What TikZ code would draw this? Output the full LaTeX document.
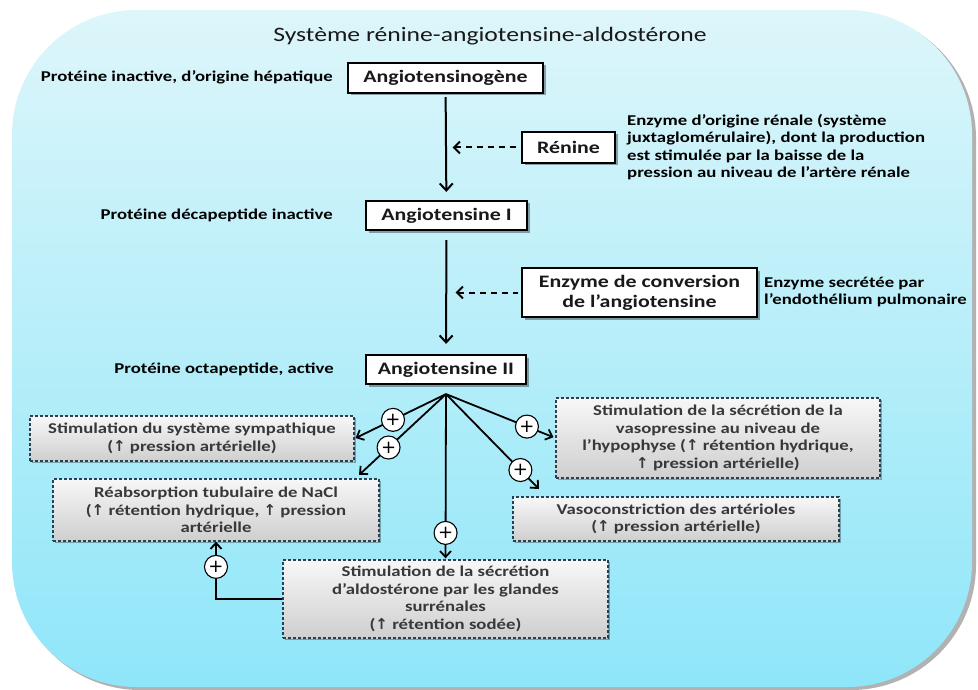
\documentclass[tikz,border=0pt]{standalone}
\usepackage{fontspec}
\setmainfont{Carlito}[FakeStretch=1.25]
\newfontfamily\symfont{DejaVu Sans}
\usetikzlibrary{arrows.meta,calc,shadows}
\newcommand{\upar}{{\symfont\char"2191}}
\definecolor{bgtop}{HTML}{DDF6FA}
\definecolor{bgbot}{HTML}{8FE6F9}
\definecolor{dashcol}{HTML}{2A3F52}
\definecolor{efftext}{HTML}{383838}
\begin{document}
\begin{tikzpicture}[x=1pt,y=-1pt,
  mainbox/.style={draw=black,line width=2.2pt,fill=white,inner sep=0pt,align=center,
    font=\fontsize{17.5}{20}\selectfont\bfseries,text=black!90,
    drop shadow={shadow xshift=2.5pt,shadow yshift=-2.5pt,fill=black,opacity=0.35}},
  effbox/.style={draw=dashcol,line width=1.3pt,dash pattern=on 3pt off 2pt,
    top color=gray!6,bottom color=gray!38,inner sep=0pt,align=center,
    font=\fontsize{15}{17.5}\selectfont\bfseries,text=efftext,
    drop shadow={shadow xshift=2pt,shadow yshift=-2pt,fill=black,opacity=0.3}},
  sidelabel/.style={font=\fontsize{15}{17.5}\selectfont\bfseries,text=black,inner sep=0pt},
  mainarr/.style={line width=2pt,-{Straight Barb[length=7pt,width=13pt,line width=2pt]}},
  dasharr/.style={line width=2pt,dash pattern=on 6pt off 5pt,{Straight Barb[length=6pt,width=12pt,line width=2pt]}-},
  fanarr/.style={line width=1.8pt,-{Straight Barb[length=6pt,width=11pt,line width=1.8pt]}},
  plus/.style={circle,draw=black,line width=1.1pt,fill=white,minimum size=23pt,inner sep=0pt,
    font=\symfont\fontsize{18}{18}\selectfont}
]
\useasboundingbox (0,0) rectangle (978,690);
% background
\fill[black!30,rounded corners=125pt] (15,13) rectangle (976,690);
\shade[top color=bgtop,bottom color=bgbot,rounded corners=125pt] (12,10) rectangle (972,687);

\node[font=\fontsize{20.5}{24}\selectfont,text=black!90] (title) at (490,36) {Système rénine-angiotensine-aldostérone};

% main chain
\node[mainbox,minimum width=195pt,minimum height=30pt] (agen) at (445.5,78) {Angiotensinogène};
\node[mainbox,minimum width=93pt,minimum height=31pt] (renine) at (568.5,147.5) {Rénine};
\node[mainbox,minimum width=161pt,minimum height=29pt] (ang1) at (446.5,215.5) {Angiotensine I};
\node[mainbox,minimum width=235pt,minimum height=49pt] (eca) at (639.5,292.5) {Enzyme de conversion\\de l’angiotensine};
\node[mainbox,minimum width=160pt,minimum height=29pt] (ang2) at (446,369.5) {Angiotensine II};

\node[sidelabel,anchor=east] (lab1) at (333,77) {Protéine inactive, d’origine hépatique};
\node[sidelabel,anchor=east] (lab2) at (333,215) {Protéine décapeptide inactive};
\node[sidelabel,anchor=east] (lab3) at (334,369) {Protéine octapeptide, active};
\node[sidelabel,anchor=west,align=left] (rtext) at (627,147) {Enzyme d’origine rénale (système\\juxtaglomérulaire), dont la production\\est stimulée par la baisse de la\\pression au niveau de l’artère rénale};
\node[sidelabel,anchor=west,align=left] (etext) at (764,292) {Enzyme secrétée par\\l’endothélium pulmonaire};

\draw[mainarr,shorten <=3pt,shorten >=8pt] (agen) -- (ang1);
\draw[mainarr,shorten <=9pt,shorten >=10pt] (ang1) -- (ang2);
\draw[dasharr,shorten <=7pt,shorten >=3pt] (renine.west -| agen.south) -- (renine.west);
\draw[dasharr,shorten <=9pt,shorten >=3pt] (eca.west -| ang1.south) -- (eca.west);

% effects
\node[effbox,minimum width=324pt,minimum height=45pt] (symp) at (192,438.5) {Stimulation du système sympathique\\(\upar\ pression artérielle)};
\node[effbox,minimum width=326pt,minimum height=62pt] (reab) at (216,510) {Réabsorption tubulaire de NaCl\\(\upar\ rétention hydrique, \upar\ pression\\artérielle};
\node[effbox,minimum width=324pt,minimum height=80pt] (vaso) at (718,438) {Stimulation de la sécrétion de la\\vasopressine au niveau de\\l’hypophyse (\upar\ rétention hydrique,\\\upar\ pression artérielle)};
\node[effbox,minimum width=326pt,minimum height=44pt] (vcon) at (676,519) {Vasoconstriction des artérioles\\(\upar\ pression artérielle)};
\node[effbox,minimum width=325pt,minimum height=78pt] (ald) at (445.5,599) {Stimulation de la sécrétion\\d’aldostérone par les glandes\\surrénales\\(\upar\ rétention sodée)};

\coordinate (fan) at ($(ang2.south)+(0,9)$);
\coordinate (t2) at (359,475);
\coordinate (t4) at (539,489);

\draw[fanarr,shorten >=1pt] (fan) -- node[plus,pos=0.58]{+} (symp.east);
\draw[fanarr] (fan) -- node[plus,pos=0.66]{+} (t2);
\draw[fanarr,shorten >=2pt] (fan) -- node[plus,pos=0.74]{+} (vaso.west);
\draw[fanarr] (fan) -- node[plus,pos=0.8]{+} (t4);
\draw[fanarr,shorten >=1pt] (fan) -- node[plus,pos=0.84]{+} (ald.north);
\draw[fanarr] (ald.west) -| node[plus,pos=0.78]{+} (reab.south);
\end{tikzpicture}
\end{document}
